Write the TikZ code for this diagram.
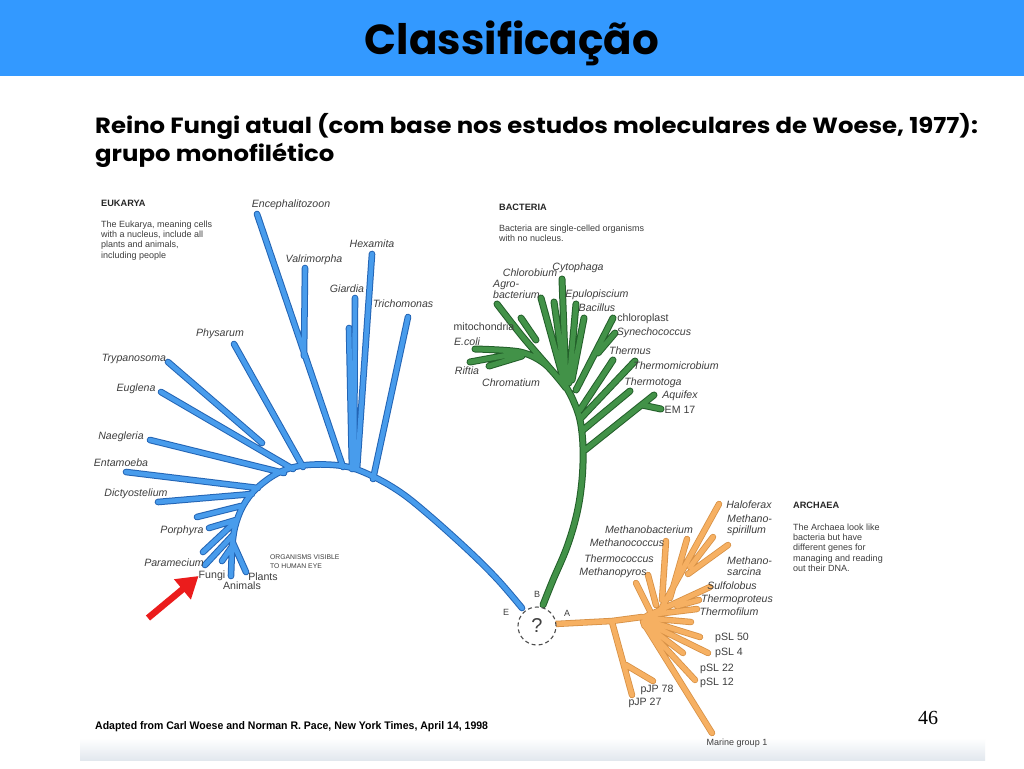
\documentclass[tikz,border=0pt]{standalone}
\usepackage{fontspec}
\usepackage{graphicx}
\setmainfont{Liberation Sans}
\newfontfamily\popfont{Poppins}
\newfontfamily\numfont{Liberation Serif}
\usetikzlibrary{arrows.meta}
\definecolor{hdr}{RGB}{51,153,255}
\definecolor{eukF}{RGB}{72,156,236}
\definecolor{eukE}{RGB}{35,100,180}
\definecolor{bacF}{RGB}{66,146,72}
\definecolor{bacE}{RGB}{35,95,42}
\definecolor{arcF}{RGB}{246,176,98}
\definecolor{arcE}{RGB}{215,145,70}
\definecolor{lbl}{RGB}{62,62,62}
\definecolor{arrowred}{RGB}{235,28,28}
\definecolor{band}{RGB}{226,232,238}
\tikzset{
  br/.style={line cap=round, line join=round},
  sp/.style={font=\fontsize{10.6}{12}\selectfont\itshape, text=lbl, inner sep=0pt},
  up/.style={font=\fontsize{10.6}{12}\selectfont, text=lbl, inner sep=0pt},
  spml/.style={font=\fontsize{10.6}{11}\selectfont\itshape, text=lbl, inner sep=0pt, align=left, anchor=north west},
  grp/.style={font=\fontsize{9.2}{10}\selectfont\bfseries, text=black!85, inner sep=0pt, anchor=west},
  desc/.style={font=\fontsize{9}{10.3}\selectfont, text=lbl, inner sep=0pt, align=left, anchor=north west},
}
\newcommand\eukpaths{
  plot[smooth, tension=0.6] coordinates {(522,608) (498,580) (470,552) (430,516) (400,492) (370,475) (343,466) (307,465) (280,472) (257,488) (243,506) (235,527) (232,548)} -- (231,576)
  (257,214) -- (343,467)
  (305,268) -- (304,356)
  (372,254) -- (357,469)
  (355,298) -- (354,469)
  (349,328) -- (352,469)
  (408,317) -- (373,479)
  (234,344) -- (303,467)
  (168,362) -- (262,443)
  (161,392) -- (293,469)
  (150,440) -- (284,473)
  (126,472) -- (258,488)
  (158,502) -- (252,494)
  (197,517) -- (241,506)
  (209,528) -- (236,520)
  (203,552) -- (233,524)
  (205,565) -- (233,535)
  (222,561) -- (233,545)
  (246,572) -- (233,543)
}
\newcommand\bacpaths{
  plot[smooth, tension=0.6] coordinates {(543,605) (553,580) (567,547) (577,513) (582,480) (583,447) (580,420) (573,400) (565,385)}
  (562,279) -- (566,385)
  (541,298) -- (565,385)
  (554,302) -- (566,385)
  plot[smooth] coordinates {(497,304) (522,336) (547,365) (566,387)}
  (521,318) -- (536,340)
  (576,304) -- (569,383)
  (584,318) -- (572,380)
  (613,318) -- (576,390)
  (615,333) -- (598,353)
  plot[smooth] coordinates {(475,349) (520,352) (545,364) (566,388)}
  (470,362) -- (519,353)
  (489,366) -- (522,356)
  (613,360) -- (580,410)
  (635,361) -- (581,418)
  (630,391) -- (583,430)
  (654,395) -- (585,450)
  (642,405) -- (661,409)
}
\newcommand\arcpaths{
  (555,624) -- (612,621) -- (642,617)
  (636,583) -- (650,611)
  (648,575) -- (656,605)
  (666,541) -- (662,600)
  (687,539) -- (670,598)
  (719,504) -- (660,611)
  (713,537) -- (690,567)
  (728,545) -- (688,574)
  (710,587) -- (645,617)
  (699,600) -- (677,606)
  (697,609) -- (648,615)
  (691,622) -- (645,618)
  (700,637) -- (645,620)
  (708,653) -- (645,622)
  (683,653) -- (645,624)
  (695,680) -- (644,625)
  (712,733) -- (643,622)
  (612,622) -- (632,695)
  (626,665) -- (653,681)
}
\begin{document}
\begin{tikzpicture}[x=1pt,y=-1pt]
\useasboundingbox (0,0) rectangle (1024,768);
\fill[white] (0,0) rectangle (1024,768);
% header
\fill[hdr] (0,0) rectangle (1024,76);
\node[anchor=base, inner sep=0pt, font=\popfont\bfseries\fontsize{42}{48}\selectfont] (title) at (512,55) {Classificação};
\node[anchor=base west, inner sep=0pt, font=\popfont\bfseries\fontsize{22}{26}\selectfont] (sub1) at (95,133) {\scalebox{1.107}[1]{Reino Fungi atual (com base nos estudos moleculares de Woese, 1977):}};
\node[anchor=base west, inner sep=0pt, font=\popfont\bfseries\fontsize{22}{26}\selectfont] (sub2) at (95,161) {\scalebox{1.107}[1]{grupo monofilético}};
% scan bottom band
\shade[top color=white, bottom color=band] (80,738) rectangle (985,760);
% trees
\draw[br, eukE, line width=6.6pt] \eukpaths;
\draw[br, eukF, line width=4.6pt] \eukpaths;
\draw[br, bacE, line width=7pt] \bacpaths;
\draw[br, bacF, line width=5pt] \bacpaths;
\draw[br, arcE, line width=6.4pt] \arcpaths;
\draw[br, arcF, line width=4.8pt] \arcpaths;
% root circle
\node[circle, draw=black!70, dashed, dash pattern=on 4pt off 3pt, line width=1.1pt, minimum size=38pt, inner sep=0pt, fill=white, font=\fontsize{20}{22}\selectfont, text=black!75] (root) at (537,626) {?};
\node[up, font=\fontsize{9}{10}\selectfont] (lE) at (506,612) {E};
\node[up, font=\fontsize{9}{10}\selectfont] (lB) at (537,594) {B};
\node[up, font=\fontsize{9}{10}\selectfont] (lA) at (567,613) {A};
% group headers and descriptions
\node[grp] (euk) at (101,203) {EUKARYA};
\node[desc] (eukd) at (101,220.5) {The Eukarya, meaning cells\\with a nucleus, include all\\plants and animals,\\including people};
\node[grp] (bac) at (499,207) {BACTERIA};
\node[desc] (bacd) at (499,224.5) {Bacteria are single-celled organisms\\with no nucleus.};
\node[grp] (arc) at (793,505) {ARCHAEA};
\node[desc] (arcd) at (793,523.5) {The Archaea look like\\bacteria but have\\different genes for\\managing and reading\\out their DNA.};
% eukarya labels
\node[sp] (l1) at (291,205) {Encephalitozoon};
\node[sp] (l2) at (314,260) {Valrimorpha};
\node[sp] (l3) at (372,244) {Hexamita};
\node[sp] (l4) at (347,289) {Giardia};
\node[sp] (l5) at (403,304) {Trichomonas};
\node[sp] (l6) at (220,334) {Physarum};
\node[sp] (l7) at (134,359) {Trypanosoma};
\node[sp] (l8) at (136,389) {Euglena};
\node[sp] (l9) at (121,437) {Naegleria};
\node[sp] (l10) at (121,463) {Entamoeba};
\node[sp] (l11) at (136,494) {Dictyostelium};
\node[sp] (l12) at (182,531) {Porphyra};
\node[sp] (l13) at (174,563) {Paramecium};
\node[up] (l14) at (212,576) {Fungi};
\node[up] (l15) at (242,586) {Animals};
\node[up] (l16) at (263,577) {Plants};
\node[inner sep=0pt, align=left, anchor=north west, text=lbl, font=\fontsize{6.8}{9}\selectfont] (vis) at (270,554.5) {ORGANISMS VISIBLE\\TO HUMAN EYE};
% bacteria labels
\node[sp] (b1) at (578,268) {Cytophaga};
\node[sp] (b2) at (530,273) {Chlorobium};
\node[spml] (b3) at (493,280) {Agro-\\bacterium};
\node[sp] (b4) at (597,295) {Epulopiscium};
\node[sp] (b5) at (597,308) {Bacillus};
\node[up] (b6) at (643,319) {chloroplast};
\node[sp] (b7) at (654,333) {Synechococcus};
\node[up] (b8) at (484,327) {mitochondria};
\node[sp] (b9) at (467,342) {E.coli};
\node[sp] (b10) at (630,351) {Thermus};
\node[sp] (b11) at (676,366) {Thermomicrobium};
\node[sp] (b12) at (467,371) {Riftia};
\node[sp] (b13) at (511,383) {Chromatium};
\node[sp] (b14) at (653,383) {Thermotoga};
\node[sp] (b15) at (680,396) {Aquifex};
\node[up] (b16) at (680,410) {EM 17};
% archaea labels
\node[sp] (a1) at (749,505) {Haloferax};
\node[spml] (a2) at (727,514.5) {Methano-\\spirillum};
\node[sp] (a3) at (649,530) {Methanobacterium};
\node[sp] (a4) at (627,543) {Methanococcus};
\node[sp] (a5) at (619,559) {Thermococcus};
\node[sp] (a6) at (613,573) {Methanopyros};
\node[spml] (a7) at (727,556.5) {Methano-\\sarcina};
\node[sp] (a8) at (732,586) {Sulfolobus};
\node[sp] (a9) at (737,600) {Thermoproteus};
\node[sp] (a10) at (729,612) {Thermofilum};
\node[up] (a11) at (732,638) {pSL 50};
\node[up] (a12) at (729,653) {pSL 4};
\node[up] (a13) at (717,669) {pSL 22};
\node[up] (a14) at (717,683) {pSL 12};
\node[up] (a15) at (657,690) {pJP 78};
\node[up] (a16) at (645,703) {pJP 27};
\node[up, font=\fontsize{9}{10}\selectfont] (a17) at (737,743) {Marine group 1};
% red arrow
\coordinate (arrtail) at (148,618);
\draw[arrowred, line width=6.5pt, -{Triangle[length=21pt,width=25pt]}] (arrtail) -- (l14.west);
% caption and page number
\node[anchor=west, inner sep=0pt, font=\fontsize{11}{13}\selectfont\bfseries] (cap) at (95,727) {\scalebox{0.955}[1]{Adapted from Carl Woese and Norman R. Pace, New York Times, April 14, 1998}};
\node[inner sep=0pt, font=\numfont\fontsize{20}{22}\selectfont] (pg) at (928,718) {46};
\end{tikzpicture}
\end{document}
